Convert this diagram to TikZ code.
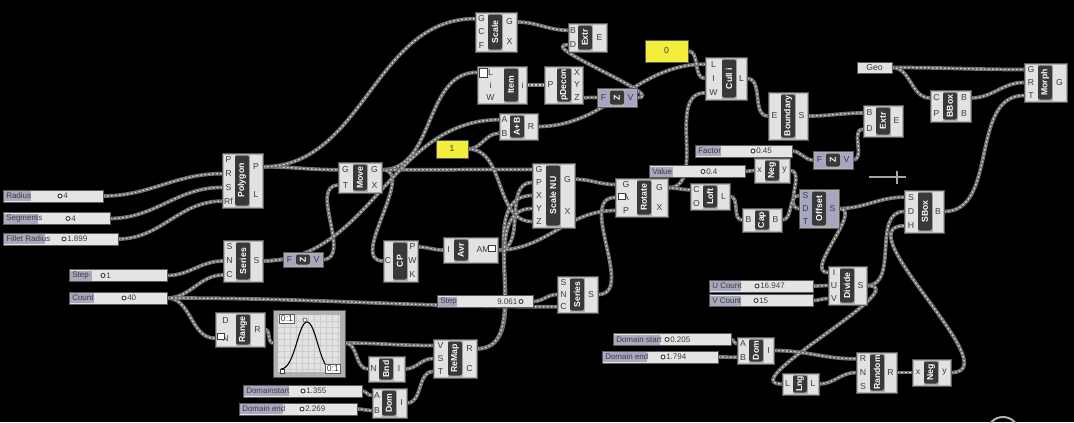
\documentclass[tikz,border=0pt]{standalone}
\usepackage{fontspec}
\setmainfont{Liberation Sans}
\usetikzlibrary{calc}
\pgfdeclarelayer{back}
\pgfdeclarelayer{wires}
\pgfsetlayers{back,wires,main}

\definecolor{ghbody}{HTML}{B0B0B0}
\definecolor{ghpanel}{HTML}{E2E2E2}
\definecolor{ghdark}{HTML}{383838}
\definecolor{ghedge}{HTML}{5A5A5A}
\definecolor{ghlav}{HTML}{A6A6C2}
\definecolor{ghslide}{HTML}{A8A8BE}
\definecolor{ghfield}{HTML}{E4E4E4}
\definecolor{ghyellow}{HTML}{F2EE3A}
\definecolor{ghwire}{HTML}{707070}
\definecolor{ghpin}{HTML}{3C3C3C}

\tikzset{
  compbox/.style={fill=ghbody, draw=ghedge, line width=0.6pt},
  panel/.style={fill=ghpanel},
  darkbox/.style={fill=ghdark, rounded corners=1.5pt},
  pinlab/.style={text=ghpin, font=\fontsize{6.5}{6.5}\selectfont, inner sep=0pt},
  complab/.style={text=white, font=\fontsize{6.5}{6.5}\selectfont\bfseries, inner sep=0pt, rotate=90},
  sliderlab/.style={text=ghpin, font=\fontsize{6}{6}\selectfont, inner sep=0pt, anchor=west},
  icon/.style={fill=white, draw=ghpin, line width=0.4pt},
  wire/.style={draw=ghwire, line width=2.8pt,
    postaction={draw=white!70!gray, line width=0.9pt, dash pattern=on 1.2pt off 1.8pt}},
}

\newcounter{nin}
\newcounter{nout}
% name, x1, y1, x2, y2, centre x, label, inputs, outputs
\newcommand{\comp}[9]{%
  \draw[compbox] (#2,#3) rectangle (#4,#5);
  \fill[panel] (#2+1.5,#3+1.5) rectangle (#6-7.5,#5-1.5);
  \fill[panel] (#6+7.5,#3+1.5) rectangle (#4-1.5,#5-1.5);
  \fill[darkbox] (#6-7,#3+2.5) rectangle (#6+7,#5-2.5);
  \node[complab] (#1) at (#6,{(#3+#5)/2}) {#7};
  \setcounter{nin}{0}\foreach \p in {#8}{\stepcounter{nin}}
  \setcounter{nout}{0}\foreach \p in {#9}{\stepcounter{nout}}
  \foreach \p [count=\k] in {#8}{
    \node[pinlab] at ({(#2+#6-7)/2},{#3+(#5-#3)*(\k-0.5)/\thenin}) {\p};
    \coordinate (#1-i\k) at (#2,{#3+(#5-#3)*(\k-0.5)/\thenin});
  }
  \foreach \p [count=\k] in {#9}{
    \node[pinlab] at ({(#6+7+#4)/2},{#3+(#5-#3)*(\k-0.5)/\thenout}) {\p};
    \coordinate (#1-o\k) at (#4,{#3+(#5-#3)*(\k-0.5)/\thenout});
  }
}
% name, x1, y, x2, split, label, knob x, value x, value
\newcommand{\slider}[9]{%
  \draw[fill=ghfield, draw=ghedge, line width=0.5pt] (#2,#3-6) rectangle (#4,#3+6);
  \fill[ghslide] (#2+1,#3-5) rectangle (#5,#3+5);
  \node[sliderlab] at (#2+3,#3) {#6};
  \draw[ghpin, line width=0.7pt, fill=white] (#7,#3) circle (1.5pt);
  \node[sliderlab] (#1) at (#8,#3) {#9};
  \coordinate (#1-o) at (#4,#3);
}

\begin{document}
\begin{tikzpicture}[x=0.75pt, y=-0.75pt]
\useasboundingbox (0,0) rectangle (1074,422);
\begin{pgfonlayer}{back}
\fill[black] (0,0) rectangle (1074,422);
\end{pgfonlayer}

\slider{Radius}{3}{196}{103}{31}{Radius}{60}{63}{4}
\slider{Segments}{3}{218.5}{110}{38}{Segments}{68}{71}{4}
\slider{Fillet}{3}{239}{118}{45}{Fillet Radius}{64}{67}{1.899}
\slider{StepL}{69}{275.5}{167}{92}{Step}{103}{106}{1}
\slider{Count}{69}{298}{167}{94}{Count}{124}{127}{40}
\slider{StepM}{437}{301.5}{533}{457}{Step}{521}{497}{9.061}
\slider{Factor}{695}{151}{792}{721}{Factor}{753}{756}{0.45}
\slider{Value}{649}{171.5}{745}{673}{Value}{703}{706}{0.4}
\slider{UCount}{709}{286}{813}{741}{U Count}{757}{760}{16.947}
\slider{VCount}{709}{300.5}{813}{741}{V Count}{756}{759}{15}
\slider{DomStartR}{613}{339.5}{731}{660}{Domain start}{667}{670}{0.205}
\slider{DomEndR}{602}{357}{718}{647}{Domain end}{663}{666}{1.794}
\slider{DomStartL}{243}{391}{362}{289}{Domainstart}{303}{306}{1.355}
\slider{DomEndL}{239}{409}{357}{283}{Domain end}{302}{305}{2.269}

\comp{Polygon}{222}{153}{263}{208}{242}{Polygon}{P,R,S,Rf}{P,L}
\comp{SeriesL}{223}{240}{263}{282}{243}{Series}{S,N,C}{S}
\comp{Move}{338}{162}{382}{193}{360}{Move}{G,T}{G,X}
\comp{CP}{383}{240}{418}{282}{400}{CP}{C}{P,W,K}
\comp{Avr}{443}{237}{498}{263}{461}{Avr}{I}{AM}
\comp{Range}{215}{312}{265}{347}{243}{Range}{D,N}{R}
\comp{Bnd}{368}{356}{405}{382}{386}{Bnd}{N}{I}
\comp{ReMap}{433}{339}{477}{378}{455}{ReMap}{V,S,T}{R,C}
\comp{DomL}{372}{388}{407}{418}{389}{Dom}{A,B}{I}
\comp{SeriesM}{557}{276}{598}{313}{577}{Series}{S,N,C}{S}
\comp{ScaleNU}{532}{163}{575}{228}{553}{Scale NU}{G,P,X,Y,Z}{G,X}
\comp{Rotate}{615}{178}{668}{217}{644}{Rotate}{G,A,P}{G,X}
\comp{Loft}{690}{183}{730}{210}{710}{Loft}{C,O}{L}
\comp{Cap}{742}{208}{782}{232}{762}{Cap}{B}{B}
\comp{NegM}{754}{158}{790}{183}{772}{Neg}{x}{y}
\comp{Scale}{475}{12}{517}{52}{495}{Scale}{G,C,F}{G,X}
\comp{Extr}{568}{23}{607}{52}{585}{Extr}{B,D}{E}
\comp{Item}{477}{66}{527}{104}{511}{Item}{L,i,W}{i}
\comp{pDecon}{544}{66}{583}{104}{564}{pDecon}{P}{X,Y,Z}
\comp{AB}{499}{113}{538}{140}{517}{A+B}{A,B}{R}
\comp{Cull}{705}{57}{747}{100}{729}{Cull i}{L,I,W}{L}
\comp{Boundary}{768}{92}{808}{140}{788}{Boundary}{E}{S}
\comp{ExtrR}{863}{105}{903}{137}{883}{Extr}{B,D}{E}
\comp{BBox}{930}{90}{971}{122}{950}{BBox}{C,P}{B,B}
\comp{Morph}{1024}{63}{1067}{102}{1045}{Morph}{G,R,T}{G}
\comp{SBox}{904}{190}{944}{233}{925}{SBox}{S,D,H}{B}
\comp{Divide}{828}{266}{867}{305}{847}{Divide}{I,U,V}{S}
\comp{DomR}{737}{337}{774}{364}{756}{Dom}{A,B}{I}
\comp{Lng}{782}{373}{819}{395}{800}{Lng}{L}{L}
\comp{Random}{856}{352}{897}{393}{877}{Random}{R,N,S}{R}
\comp{NegR}{912}{359}{951}{386}{931}{Neg}{x}{y}
\tikzset{panel/.style={fill=ghlav}}
\comp{ZS}{283}{252}{323}{267}{303}{Z}{F}{V}
\comp{ZT}{597}{88}{637}{107}{617}{Z}{F}{V}
\comp{ZF}{813}{151}{853}{169}{833}{Z}{F}{V}
\comp{Offset}{799}{189}{839}{228}{819}{Offset}{S,D,T}{S}
\tikzset{panel/.style={fill=ghpanel}}

\draw[icon] (479,68) rectangle (487,77);
\draw[icon] (618,193) rectangle (625,199);
\draw[icon] (217,333) rectangle (224,339);
\draw[icon] (488,245) rectangle (495,251);

\draw[fill=ghyellow, draw=ghedge] (645,40) rectangle (688,62);
\node[pinlab] (Panel0) at (666.5,51) {0};
\coordinate (Panel0-o) at (688,51);
\draw[fill=ghyellow, draw=ghedge] (436,140) rectangle (468,158);
\node[pinlab] (Panel1) at (452,149) {1};
\coordinate (Panel1-o) at (468,149);

\draw[fill=ghpanel, draw=ghedge] (857,62) rectangle (892,73);
\node[pinlab] (Geo) at (874.5,67.5) {Geo};
\coordinate (Geo-o) at (892,67.5);

\draw[compbox] (273,310) rectangle (345,377);
\fill[ghpanel] (278,315) rectangle (340,372);
\foreach \g in {284,290,...,338} \draw[gray!40, line width=0.3pt] (\g,315) -- (\g,372);
\foreach \g in {321,327,...,369} \draw[gray!40, line width=0.3pt] (278,\g) -- (340,\g);
\draw[black, line width=0.8pt] (281,369) .. controls (295,369) and (298,322) .. (307,322)
  .. controls (316,322) and (320,369) .. (331,369);
\draw[icon] (280,369) rectangle (284,373);
\draw[icon] (305,320) circle (1.5pt);
\node[pinlab, fill=white, draw=ghedge, inner sep=1pt] (GraphA) at (287,319) {0:1};
\node[pinlab, fill=white, draw=ghedge, inner sep=1pt] (GraphB) at (333,369) {0:1};
\coordinate (Graph-i) at (273,343);
\coordinate (Graph-o) at (345,343);

\draw[gray!70, line width=1.5pt] (869,177) -- (906,177);
\draw[gray!70, line width=1.5pt] (897,171) -- (897,184);
\draw[gray!60, line width=1.5pt] (1003,433) circle (12pt);

\begin{pgfonlayer}{wires}
\foreach \a/\b in {Radius-o/Polygon-i2, Segments-o/Polygon-i3, Fillet-o/Polygon-i4,
  Polygon-o1/Move-i1, Polygon-o1/Scale-i1, Scale-o1/Extr-i1, ZT-o1/Extr-i2,
  Item-o1/pDecon-i1, pDecon-o3/ZT-i1, Move-o1/Item-i1, Move-o1/ScaleNU-i1, Move-o1/CP-i1,
  StepL-o/SeriesL-i2, Count-o/SeriesL-i3, Count-o/Range-i2, Count-o/SeriesM-i3,
  SeriesL-o1/ZS-i1, ZS-o1/Move-i2, SeriesL-o1/AB-i1, Panel1-o/AB-i2, Panel1-o/ScaleNU-i5,
  CP-o1/Avr-i1, Avr-o1/ScaleNU-i2, Avr-o1/Rotate-i3, ReMap-o1/ScaleNU-i3, ReMap-o1/ScaleNU-i4,
  ScaleNU-o1/Rotate-i1, SeriesM-o1/Rotate-i2, StepM-o/SeriesM-i2,
  Range-o1/Graph-i, Graph-o/ReMap-i1, Graph-o/Bnd-i1, Bnd-o1/ReMap-i2, DomL-o1/ReMap-i3,
  DomStartL-o/DomL-i1, DomEndL-o/DomL-i2,
  AB-o1/Cull-i1, Panel0-o/Cull-i2, Rotate-o1/Cull-i3, Rotate-o1/Loft-i1,
  Cull-o1/Boundary-i1, Boundary-o1/ExtrR-i1, Factor-o/ZF-i1, ZF-o1/ExtrR-i2,
  Value-o/NegM-i1, NegM-o1/Offset-i2, Loft-o1/Cap-i1, Cap-o1/Offset-i1,
  Offset-o1/SBox-i1, Offset-o1/Divide-i1, UCount-o/Divide-i2, VCount-o/Divide-i3,
  Divide-o1/SBox-i2, Divide-o1/Lng-i1, DomStartR-o/DomR-i1, DomEndR-o/DomR-i2,
  DomR-o1/Random-i1, Lng-o1/Random-i2, Random-o1/NegR-i1, NegR-o1/SBox-i3,
  Geo-o/Morph-i1, Geo-o/BBox-i1, BBox-o1/Morph-i2, SBox-o1/Morph-i3}
  \draw[wire] (\a) to[out=0,in=180] (\b);
\end{pgfonlayer}
\end{tikzpicture}
\end{document}
